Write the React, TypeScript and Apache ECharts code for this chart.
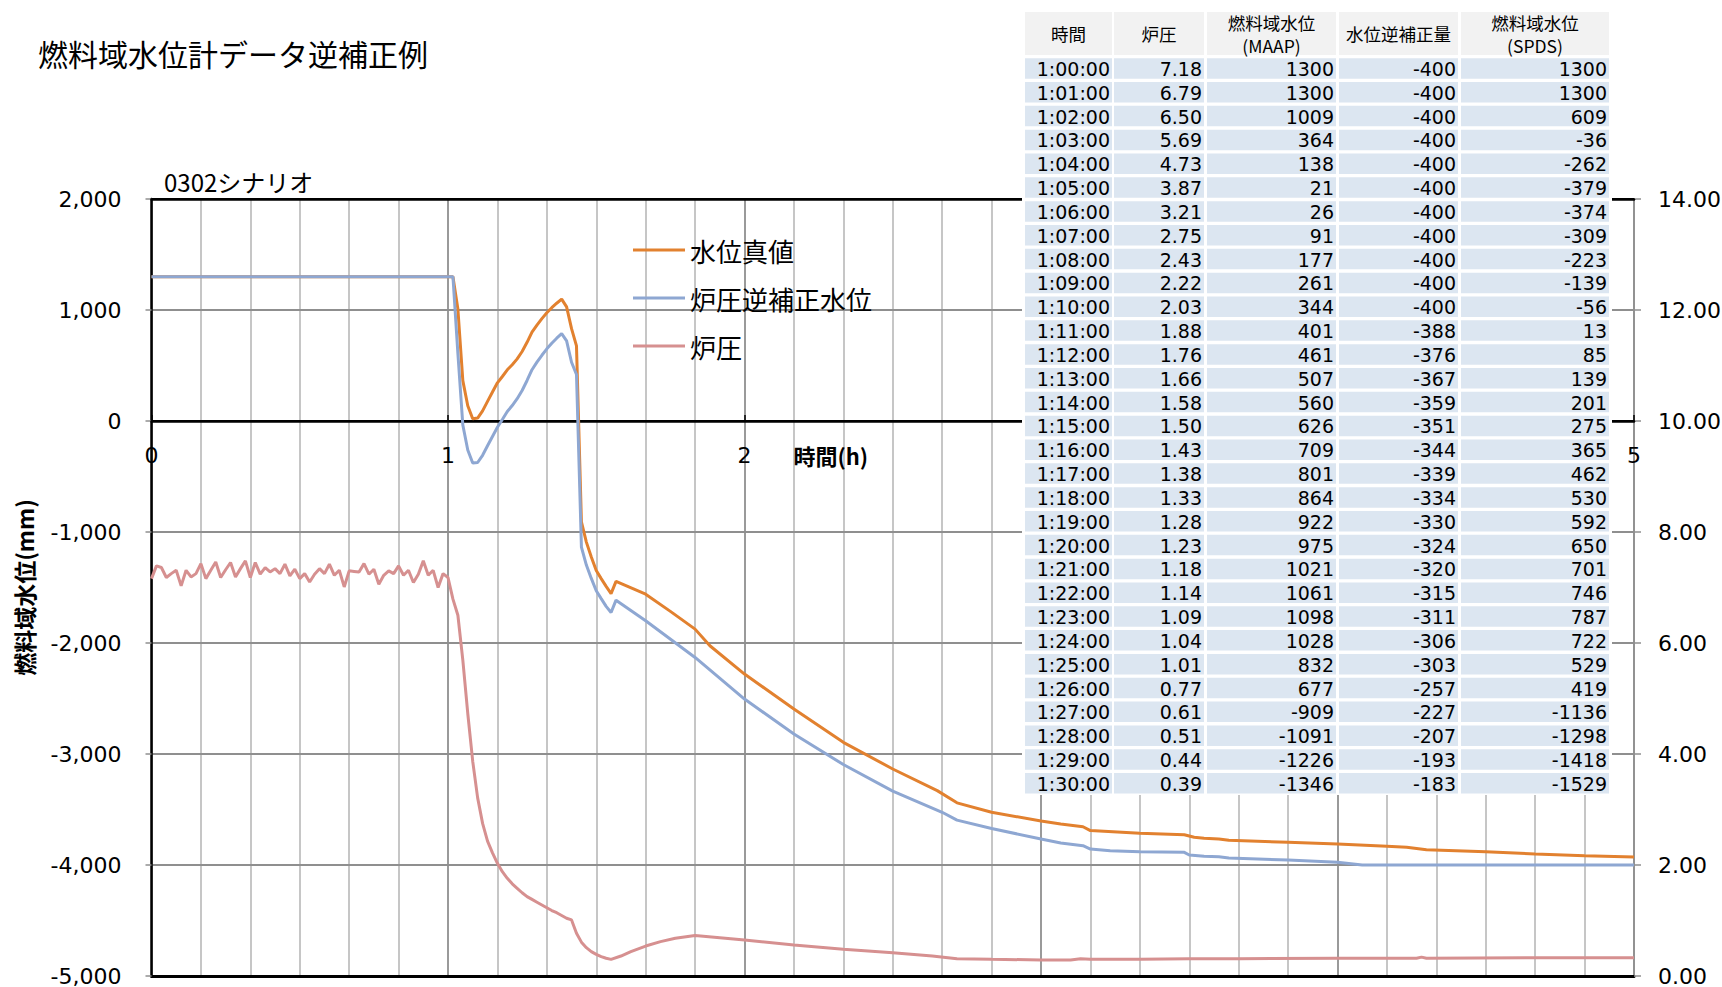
import React, { useEffect, useRef } from 'react';
import * as echarts from 'echarts';

// ---- Table data (1:00:00 – 1:30:00, one row per minute) ----
const tableHeader = ['時間', '炉圧', '燃料域水位\n(MAAP)', '水位逆補正量', '燃料域水位\n(SPDS)'];
const tableStartMin = 60;
const tableTimes = [
  '1:00:00', '1:01:00', '1:02:00', '1:03:00', '1:04:00', '1:05:00', '1:06:00', '1:07:00',
  '1:08:00', '1:09:00', '1:10:00', '1:11:00', '1:12:00', '1:13:00', '1:14:00', '1:15:00',
  '1:16:00', '1:17:00', '1:18:00', '1:19:00', '1:20:00', '1:21:00', '1:22:00', '1:23:00',
  '1:24:00', '1:25:00', '1:26:00', '1:27:00', '1:28:00', '1:29:00', '1:30:00',
];
const tablePressure = [
  7.18, 6.79, 6.5, 5.69, 4.73, 3.87, 3.21, 2.75, 2.43, 2.22, 2.03, 1.88, 1.76, 1.66, 1.58, 1.5,
  1.43, 1.38, 1.33, 1.28, 1.23, 1.18, 1.14, 1.09, 1.04, 1.01, 0.77, 0.61, 0.51, 0.44, 0.39,
];
const tableMaap = [
  1300, 1300, 1009, 364, 138, 21, 26, 91, 177, 261, 344, 401, 461, 507, 560, 626,
  709, 801, 864, 922, 975, 1021, 1061, 1098, 1028, 832, 677, -909, -1091, -1226, -1346,
];
const tableCorrection = [
  -400, -400, -400, -400, -400, -400, -400, -400, -400, -400, -400, -388, -376, -367, -359, -351,
  -344, -339, -334, -330, -324, -320, -315, -311, -306, -303, -257, -227, -207, -193, -183,
];
const tableSpds = [
  1300, 1300, 609, -36, -262, -379, -374, -309, -223, -139, -56, 13, 85, 139, 201, 275,
  365, 462, 530, 592, 650, 701, 746, 787, 722, 529, 419, -1136, -1298, -1418, -1529,
];

// ---- Chart data (time in minutes) ----
const initialTimes = [0];
const initialOrange = [1300];
const initialBlue = [1300];

// 炉圧 0:00 – 0:59, one value per minute (MPa)
const pressureEarly = [
  7.16, 7.39, 7.36, 7.18, 7.25, 7.31, 7.03, 7.31, 7.19, 7.25,
  7.43, 7.16, 7.31, 7.46, 7.18, 7.32, 7.45, 7.19, 7.34, 7.48,
  7.18, 7.45, 7.24, 7.36, 7.28, 7.34, 7.25, 7.42, 7.21, 7.33,
  7.16, 7.25, 7.1, 7.24, 7.34, 7.25, 7.42, 7.22, 7.31, 7.01,
  7.3, 7.29, 7.28, 7.43, 7.24, 7.33, 7.06, 7.22, 7.3, 7.25,
  7.39, 7.22, 7.31, 7.09, 7.24, 7.48, 7.22, 7.31, 7.0, 7.25,
];

const orangeTailMin = [91, 92, 93, 94, 100, 105, 110, 113, 120, 130, 140, 150, 159, 163, 170, 180, 184, 188.5, 190, 200, 209, 211, 213, 216, 218, 230, 240, 250, 254, 258, 270, 280, 290, 300];
const orangeTail = [-1420, -1490, -1555, -1445, -1560, -1715, -1875, -2025, -2280, -2595, -2895, -3135, -3330, -3440, -3525, -3603, -3631, -3655, -3690, -3715, -3728, -3750, -3758, -3766, -3778, -3796, -3811, -3832, -3841, -3862, -3880, -3901, -3916, -3928];

const blueTailMin = [91, 92, 93, 94, 100, 110, 120, 130, 140, 150, 160, 163, 170, 180, 184, 188.5, 190, 194, 200, 209, 210, 213, 216, 218, 230, 240, 245, 300];
const blueTail = [-1600, -1670, -1725, -1614, -1800, -2130, -2505, -2820, -3095, -3335, -3525, -3596, -3671, -3766, -3802, -3826, -3856, -3871, -3880, -3886, -3910, -3922, -3925, -3937, -3955, -3976, -4000, -4000];

const pressureTailMin = [91, 92, 93, 95, 97, 100, 103, 106, 110, 115, 120, 130, 140, 150, 158, 163, 170, 180, 186, 188, 190, 200, 210, 220, 240, 256, 257, 258, 280, 300];
const pressureTail = [0.35, 0.32, 0.3, 0.36, 0.44, 0.54, 0.62, 0.68, 0.73, 0.69, 0.65, 0.56, 0.48, 0.42, 0.36, 0.31, 0.3, 0.29, 0.29, 0.31, 0.3, 0.3, 0.31, 0.31, 0.32, 0.32, 0.34, 0.32, 0.33, 0.33];

// hour labels shown on the zero line (3 h and 4 h are hidden behind the table)
const hourLabelsShown = [0, 1, 2, 5];

const seriesNames = ['水位真値', '炉圧逆補正水位', '炉圧'];
const seriesColors = ['#E2812F', '#8EA7D2', '#D69090'];

const levelMin = -5000;
const levelMax = 2000;

const JP = '"Noto Sans CJK JP", "Noto Sans", sans-serif';
const NUM = '"DejaVu Sans", sans-serif';

function buildTable(): any[] {
  const colX = [1025, 1114, 1207, 1339, 1461];
  const colW = [87, 90, 129, 119, 148];
  const headerY = 12;
  const headerH = 43;
  const rowY0 = 58.2;
  const pitch = 23.83;
  const rowH = 20.5;
  const els: any[] = [];
  els.push({ type: 'rect', z: 50, shape: { x: 1022, y: 9, width: 590, height: 786 }, style: { fill: '#ffffff' } });
  tableHeader.forEach((h, c) => {
    els.push({ type: 'rect', z: 51, shape: { x: colX[c], y: headerY, width: colW[c], height: headerH }, style: { fill: '#F2F2F2' } });
    els.push({
      type: 'text', z: 52, x: colX[c] + colW[c] / 2, y: headerY + headerH / 2,
      style: { text: h, fill: '#000', fontSize: 17.5, fontFamily: JP, lineHeight: 23, align: 'center', textAlign: 'center', verticalAlign: 'middle', textVerticalAlign: 'middle' },
    });
  });
  const cols = [
    tableTimes,
    tablePressure.map((v) => v.toFixed(2)),
    tableMaap.map(String),
    tableCorrection.map(String),
    tableSpds.map(String),
  ];
  for (let r = 0; r < tableTimes.length; r++) {
    const y = rowY0 + r * pitch;
    for (let c = 0; c < 5; c++) {
      els.push({ type: 'rect', z: 51, shape: { x: colX[c], y, width: colW[c], height: rowH }, style: { fill: '#DCE6F1' } });
      els.push({
        type: 'text', z: 52, x: colX[c] + colW[c] - 2, y: y + rowH / 2 + 0.5,
        style: { text: cols[c][r], fill: '#000', fontSize: 19, fontFamily: NUM, align: 'right', textAlign: 'right', verticalAlign: 'middle', textVerticalAlign: 'middle' },
      });
    }
  }
  return els;
}

export default function App() {
  const ref = useRef<HTMLDivElement>(null);
  useEffect(() => {
    if (!ref.current) return;
    const chart = echarts.init(ref.current, null, { renderer: 'svg' });

    const orangeData = [
      ...initialTimes.map((t, i) => [t, initialOrange[i]]),
      ...tableMaap.map((v, i) => [tableStartMin + i, v]),
      ...orangeTailMin.map((t, i) => [t, orangeTail[i]]),
    ];
    const blueData = [
      ...initialTimes.map((t, i) => [t, initialBlue[i]]),
      ...tableSpds.map((v, i) => [tableStartMin + i, v]),
      ...blueTailMin.map((t, i) => [t, blueTail[i]]),
    ];
    const pressureData = [
      ...pressureEarly.map((v, i) => [i, v]),
      ...tablePressure.map((v, i) => [tableStartMin + i, v]),
      ...pressureTailMin.map((t, i) => [t, pressureTail[i]]),
    ];

    const plotLeft = 151.5;
    const plotTop = 199;
    const plotW = 1482.5;
    const plotH = 777;
    // upper grid ends at level 0, so its bottom axis is the zero line
    const upperH = (plotH * levelMax) / (levelMax - levelMin);

    const gray = '#8f8f8f';
    const option: any = {
      animation: false,
      backgroundColor: '#ffffff',
      title: [
        { text: '燃料域水位計データ逆補正例', left: 38, top: 38, padding: 0, textStyle: { fontSize: 30, fontWeight: 'normal', fontFamily: JP, color: '#000' } },
        { text: '0302シナリオ', left: 164, top: 169, padding: 0, textStyle: { fontSize: 24, fontWeight: 'normal', fontFamily: JP, color: '#000' } },
      ],
      legend: {
        orient: 'vertical', left: 633, top: 237, padding: 0,
        itemWidth: 52, itemHeight: 3, itemGap: 22, icon: 'rect',
        data: seriesNames,
        textStyle: { fontSize: 26, fontFamily: JP, color: '#000' },
      },
      grid: [
        { left: plotLeft, top: plotTop, width: plotW, height: plotH, outerBoundsMode: 'none', containLabel: false },
        { left: plotLeft, top: plotTop, width: plotW, height: upperH, outerBoundsMode: 'none', containLabel: false },
      ],
      xAxis: [
        {
          type: 'value', gridIndex: 0, min: 0, max: 300, interval: 60, position: 'bottom',
          axisLine: { show: true, onZero: false, lineStyle: { color: '#000', width: 3 } },
          axisTick: { show: false },
          axisLabel: { show: false },
          splitLine: { show: true, lineStyle: { color: '#9a9a9a', width: 2 } },
          minorTick: { show: false, splitNumber: 6 },
          minorSplitLine: { show: true, lineStyle: { color: '#c6c6c6', width: 2 } },
        },
        {
          type: 'value', gridIndex: 0, min: 0, max: 300, position: 'top', z: 3,
          axisLine: { show: true, onZero: false, lineStyle: { color: '#000', width: 2.5 } },
          axisTick: { show: false }, axisLabel: { show: false }, splitLine: { show: false },
        },
        {
          type: 'value', gridIndex: 1, min: 0, max: 300, interval: 60, position: 'bottom', z: 3,
          axisLine: { show: true, onZero: false, lineStyle: { color: '#000', width: 2.5 } },
          axisTick: { show: true, inside: true, length: 6, lineStyle: { color: '#000', width: 1.5 } },
          axisLabel: {
            formatter: (v: number) => (hourLabelsShown.indexOf(v / 60) >= 0 ? String(v / 60) : ''),
            fontSize: 22, fontFamily: NUM, color: '#000', margin: 23,
          },
          splitLine: { show: false },
          name: '時間(h)', nameLocation: 'middle', nameGap: 23, nameMoveOverlap: false,
          nameTextStyle: { fontSize: 22, fontWeight: 'bold', fontFamily: JP, color: '#000', padding: [0, 124, 0, 0] },
        },
      ],
      yAxis: [
        {
          type: 'value', gridIndex: 0, min: levelMin, max: levelMax, interval: 1000, position: 'left', z: 1,
          axisLine: { show: true, onZero: false, lineStyle: { color: '#000', width: 2.5 } },
          axisTick: { show: true, length: 6, lineStyle: { color: gray, width: 1.5 } },
          axisLabel: { formatter: (v: number) => v.toLocaleString('en-US'), fontSize: 22, fontFamily: NUM, color: '#000', margin: 30 },
          splitLine: { show: true, lineStyle: { color: ['#000', gray, gray, gray, gray, '#000', gray, '#000'], width: 2 } },
          name: '燃料域水位(mm)', nameLocation: 'middle', nameRotate: 90, nameGap: 116,
          nameTextStyle: { fontSize: 23, fontWeight: 'bold', fontFamily: JP, color: '#000' },
        },
        {
          type: 'value', gridIndex: 0, min: 0, max: 14, interval: 2, position: 'right',
          axisLine: { show: true, onZero: false, lineStyle: { color: gray, width: 1.5 } },
          axisTick: { show: true, length: 7, lineStyle: { color: gray, width: 1.5 } },
          axisLabel: { formatter: (v: number) => v.toFixed(2), fontSize: 22, fontFamily: NUM, color: '#000', margin: 24 },
          splitLine: { show: false },
        },
        {
          type: 'value', gridIndex: 1, min: 0, max: levelMax, show: false,
        },
      ],
      series: [
        { name: seriesNames[0], type: 'line', xAxisIndex: 0, yAxisIndex: 0, data: orangeData, symbol: 'none', z: 3, lineStyle: { color: seriesColors[0], width: 3 }, itemStyle: { color: seriesColors[0] } },
        { name: seriesNames[1], type: 'line', xAxisIndex: 0, yAxisIndex: 0, data: blueData, symbol: 'none', z: 4, lineStyle: { color: seriesColors[1], width: 3 }, itemStyle: { color: seriesColors[1] } },
        { name: seriesNames[2], type: 'line', xAxisIndex: 0, yAxisIndex: 1, data: pressureData, symbol: 'none', z: 2, lineStyle: { color: seriesColors[2], width: 3 }, itemStyle: { color: seriesColors[2] } },
      ],
      graphic: { elements: buildTable() },
    };
    chart.setOption(option);
    return () => chart.dispose();
  }, []);
  return <div ref={ref} style={{ position: 'fixed', left: 0, top: 0, width: 1722, height: 987, background: '#fff' }} />;
}
